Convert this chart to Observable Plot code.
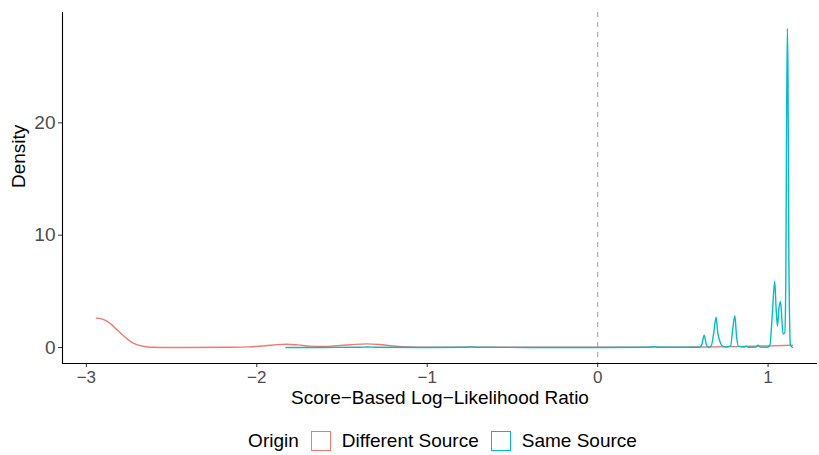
<!DOCTYPE html>
<html>
<head>
<meta charset="utf-8">
<script src="https://cdn.jsdelivr.net/npm/d3@7"></script>
<script src="https://cdn.jsdelivr.net/npm/@observablehq/plot@0.6"></script>
<style>
  html, body { margin: 0; padding: 0; background: #fff; overflow: hidden; }
  body { width: 819px; height: 455px; font-family: "Liberation Sans", Arial, Helvetica, sans-serif; }
  #legend { display: flex; align-items: center; justify-content: center; height: 28px; margin-top: 12px; font-size: 19px; color: #000; padding-left: 68px; }
  #legend .sw { display: inline-block; width: 18px; height: 18px; border: 1.5px solid; margin: 0 11px 0 10px; }
  #legend .lab { margin-right: 2px; }
</style>
</head>
<body>
<div id="chart"></div>
<div id="legend"></div>
<script>
// Series names and colours
const seriesNames = ["Different Source", "Same Source"];
const seriesColors = ["#F8766D", "#00BFC4"];

// Different Source density curve (x: score-based LLR, y: density)
const diffX = [-2.941, -2.91, -2.88, -2.85, -2.82, -2.78, -2.74, -2.70, -2.66, -2.624, -2.55, -2.40, -2.20, -2.05, -1.95, -1.88, -1.823, -1.76, -1.69, -1.628, -1.55, -1.45, -1.354, -1.28, -1.20, -1.10, -1.00, -0.85, -0.76, -0.74, -0.72, -0.60, -0.30, 0.00, 0.30, 0.33, 0.36, 0.60, 0.80, 1.01, 1.10, 1.143];
const diffY = [2.62, 2.55, 2.35, 2.02, 1.58, 1.02, 0.53, 0.24, 0.09, 0.02, 0.01, 0.01, 0.02, 0.06, 0.16, 0.26, 0.30, 0.24, 0.13, 0.09, 0.14, 0.25, 0.33, 0.27, 0.14, 0.05, 0.03, 0.03, 0.05, 0.07, 0.04, 0.02, 0.02, 0.02, 0.03, 0.07, 0.03, 0.05, 0.08, 0.15, 0.19, 0.21];

// Same Source density curve
const sameX = [-1.829, -1.60, -1.40, -1.354, -1.30, -1.00, -0.76, -0.74, -0.72, -0.40, 0.00, 0.30, 0.33, 0.36, 0.58, 0.60, 0.612, 0.625, 0.637, 0.648, 0.665, 0.682, 0.695, 0.705, 0.716, 0.728, 0.75, 0.78, 0.793, 0.805, 0.815, 0.827, 0.86, 0.87, 0.885, 0.93, 0.941, 0.953, 0.99, 1.01, 1.025, 1.039, 1.047, 1.055, 1.064, 1.073, 1.081, 1.088, 1.098, 1.104, 1.108, 1.113, 1.117, 1.122, 1.131, 1.143];
const sameY = [0.00, 0.01, 0.02, 0.05, 0.02, 0.01, 0.02, 0.05, 0.02, 0.01, 0.01, 0.02, 0.08, 0.02, 0.02, 0.04, 0.30, 1.09, 0.30, 0.05, 0.10, 1.40, 2.70, 1.30, 0.60, 0.20, 0.05, 0.15, 1.70, 2.83, 1.00, 0.10, 0.05, 0.12, 0.03, 0.04, 0.20, 0.04, 0.03, 0.15, 3.00, 5.90, 3.50, 1.90, 3.50, 4.10, 2.50, 1.20, 1.30, 6.0, 18.0, 28.4, 24.0, 8.0, 0.25, 0.00];

// Axis ticks
const xTicks = [-3, -2, -1, 0, 1];
const yTicks = [0, 10, 20];
const xTitle = "Score\u2212Based Log\u2212Likelihood Ratio";
const yTitle = "Density";
const legendTitle = "Origin";
const refLine = [0];

const rows = [
  ...diffX.map((x, i) => ({x, y: diffY[i], origin: seriesNames[0]})),
  ...sameX.map((x, i) => ({x, y: sameY[i], origin: seriesNames[1]}))
];

const xDomain = [-3.14, 1.29];
const yDomain = [-1.42, 29.82];

const chart = Plot.plot({
  width: 819,
  height: 415,
  marginLeft: 62,
  marginRight: 2,
  marginTop: 12,
  marginBottom: 52,
  style: {fontFamily: '"Liberation Sans", Arial, Helvetica, sans-serif', background: "#fff"},
  x: {domain: xDomain, label: null},
  y: {domain: yDomain, label: null},
  color: {domain: seriesNames, range: seriesColors},
  marks: [
    Plot.ruleX(refLine, {stroke: "#a6a6a6", strokeWidth: 1.1, strokeDasharray: "5,5"}),
    Plot.line(rows, {x: "x", y: "y", z: "origin", stroke: "origin", strokeWidth: 1.4, curve: "monotone-x"}),
    Plot.axisX({ticks: xTicks, tickSize: 4, tickPadding: 3, fontSize: 17, color: "#4d4d4d", stroke: "#333", label: null, tickFormat: d3.format("")}),
    Plot.axisY({ticks: yTicks, tickSize: 4, tickPadding: 3, fontSize: 19, color: "#4d4d4d", stroke: "#333", label: null}),
    Plot.ruleX([xDomain[0]], {stroke: "#000", strokeWidth: 1.1}),
    Plot.ruleY([yDomain[0]], {stroke: "#000", strokeWidth: 1.1}),
    Plot.text([xTitle], {frameAnchor: "bottom", dy: 40, fontSize: 19, fill: "#000"}),
    Plot.text([yTitle], {frameAnchor: "left", dx: -44, rotate: -90, fontSize: 19, fill: "#000"})
  ]
});
document.getElementById("chart").appendChild(chart);

const legend = document.getElementById("legend");
const t = document.createElement("span");
t.className = "lab";
t.textContent = legendTitle;
legend.appendChild(t);
seriesNames.forEach((name, i) => {
  const sw = document.createElement("span");
  sw.className = "sw";
  sw.style.borderColor = seriesColors[i];
  legend.appendChild(sw);
  const l = document.createElement("span");
  l.className = "lab";
  l.textContent = name;
  legend.appendChild(l);
});
</script>
</body>
</html>
